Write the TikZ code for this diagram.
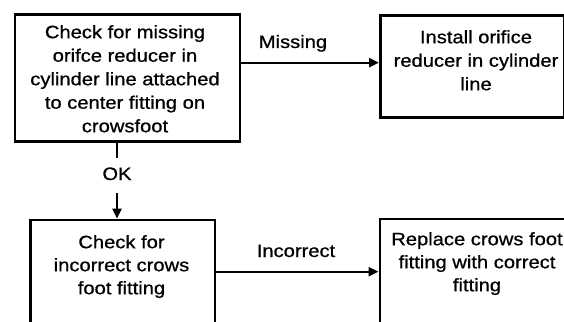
\documentclass[tikz,border=0pt]{standalone}
\usepackage{fontspec}
\setmainfont{Liberation Sans}[FakeStretch=1.12,FakeBold=0.8]
\usetikzlibrary{arrows.meta,calc}
\begin{document}
\begin{tikzpicture}[x=1pt,y=-1pt,
  box/.style={draw, line width=2.8pt, inner sep=0pt, anchor=north west},
  txt/.style={align=center, anchor=north, inner sep=0pt,
    font=\fontsize{18}{23.5}\selectfont},
  lbl/.style={anchor=base, inner sep=0pt, font=\fontsize{18}{22}\selectfont},
  flow/.style={line width=2.4pt, -{Triangle[length=10pt,width=9pt]}},
  stem/.style={line width=2.4pt}]
\useasboundingbox (0,0) rectangle (564,321);

% boxes
\node[box, minimum width=225pt, minimum height=127pt] (b1) at (13.5,13) {};
\node[box, minimum width=184pt, minimum height=101.5pt] (b2) at (379,14.5) {};
\node[box, minimum width=184.5pt, minimum height=150pt] (b3) at (29,218.5) {};
\node[box, minimum width=220pt, minimum height=150pt] (b4) at (378.5,217.5) {};

% box texts
\node[txt] (t1) at (125,25) {Check for missing\\orifce reducer in\\cylinder line attached\\to center fitting on\\crowsfoot};
\node[txt] (t2) at (476,30) {Install orifice\\reducer in cylinder\\line};
\node[txt, font=\fontsize{18}{23}\selectfont] (t3) at (121.5,235) {Check for\\incorrect crows\\foot fitting};
\node[txt, font=\fontsize{18}{23}\selectfont] (t4) at (477,232) {Replace crows foot\\fitting with correct\\fitting};

% connector labels
\node[lbl] (lm) at (293,48) {Missing};
\node[lbl] (li) at (296,257) {Incorrect};
\node[lbl] (ok) at (117,180) {OK};

% connectors
\coordinate (okTop) at (117,158);
\coordinate (okBot) at (117,193);
\draw[flow] (b1.east |- 0,62.7) -- (b2.west |- 0,62.7);
\draw[stem] (b1.south -| okTop) -- (okTop);
\draw[flow] (okBot) -- (b3.north -| okBot);
\draw[flow] (b3.east |- 0,271.7) -- (b4.west |- 0,271.7);
\end{tikzpicture}
\end{document}
